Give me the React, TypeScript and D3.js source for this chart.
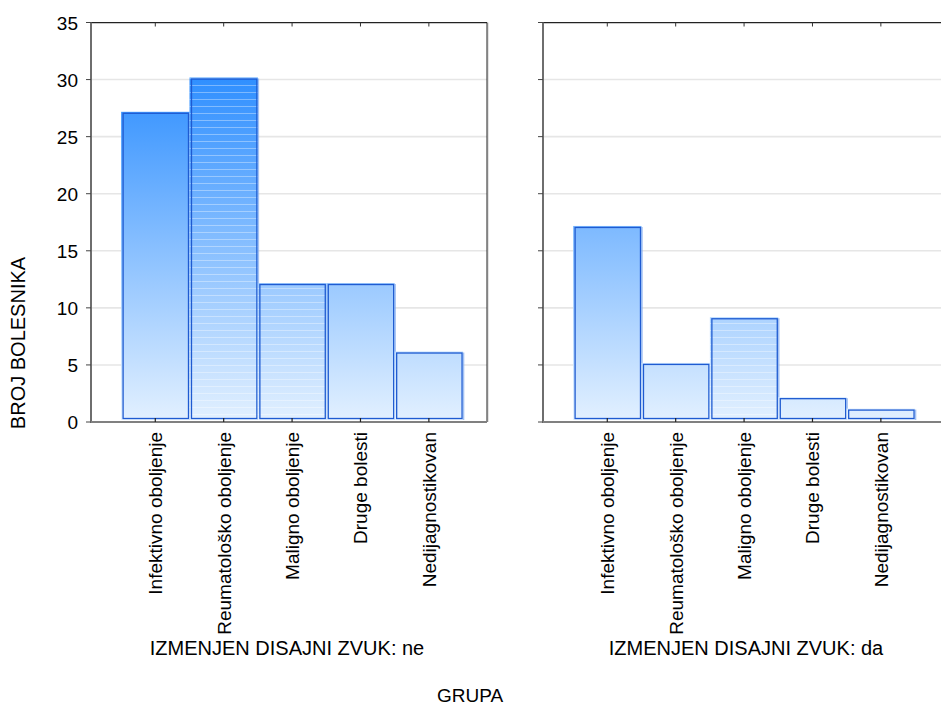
import React from "react";
import * as d3 from "d3";

const categories = [
  "Infektivno oboljenje",
  "Reumatološko oboljenje",
  "Maligno oboljenje",
  "Druge bolesti",
  "Nedijagnostikovan",
];
const valuesNe = [27, 30, 12, 12, 6];
const valuesDa = [17, 5, 9, 2, 1];
const panelTitles = ["IZMENJEN DISAJNI ZVUK: ne", "IZMENJEN DISAJNI ZVUK: da"];
const yTicks = [0, 5, 10, 15, 20, 25, 30, 35];
const texturedNe = [1, 2];
const texturedDa = [2];

const W = 941;
const H = 722;
const FONT = "'Liberation Sans', Arial, sans-serif";

const y = d3.scaleLinear().domain([0, 35]).range([422, 22.5]);
const colorScale = d3.scaleLinear<string>().domain([0, 30]).range(["#e2f0ff", "#2f8fff"]);

function Panel({ x0, x1, frameRight, values, textured, title, showLabels }: any) {
  const x = d3.scaleLinear().domain([-0.94, 4.85]).range([x0, x1]);
  const yTop = y(35);
  const yBot = y(0);
  return (
    <g>
      {yTicks.filter((t) => t > 0 && t < 35).map((t) => (
        <line key={"g" + t} x1={x0} x2={frameRight} y1={y(t)} y2={y(t)} stroke="#e6e6e6" strokeWidth={1.6} />
      ))}
      <g transform="translate(0,-2)">
        {values.map((v: number, i: number) => {
          const bx = x(i - 0.5);
          const bw = x(i + 0.5) - x(i - 0.5);
          const by = y(v);
          const bh = yBot - y(v);
          return (
            <g key={"b" + i}>
              <rect x={bx} y={by} width={bw} height={bh} fill="url(#grad)" />
              {textured.includes(i) && (
                <rect x={bx} y={by} width={bw} height={bh} fill="url(#stripes)" />
              )}
              <rect x={bx + 2} y={by + 1.5} width={bw - 3} height={bh - 3} fill="none" stroke="#1f5bd1" strokeWidth={1.3} />
              <line x1={bx + bw + 0.5} x2={bx + bw + 0.5} y1={by + 1} y2={by + bh} stroke="#7fa9ef" strokeWidth={1.5} opacity={0.7} />
            </g>
          );
        })}
      </g>
      <line x1={x0} x2={frameRight} y1={yTop + 1} y2={yTop + 1} stroke="#c8c8c8" strokeWidth={1} />
      <line x1={frameRight + 1} x2={frameRight + 1} y1={yTop} y2={yBot} stroke="#c8c8c8" strokeWidth={1} />
      <line x1={x0} x2={frameRight} y1={yTop} y2={yTop} stroke="#222" strokeWidth={1} />
      <line x1={frameRight} x2={frameRight} y1={yTop} y2={yBot} stroke="#222" strokeWidth={1} />
      <line x1={x0} x2={x0} y1={yTop} y2={yBot + 1} stroke="#6e6e6e" strokeWidth={2} />
      <line x1={x0 - 1} x2={frameRight} y1={yBot} y2={yBot} stroke="#808080" strokeWidth={2} />
      {yTicks.map((t) => (
        <line key={"yt" + t} x1={x0 - 5} x2={x0} y1={y(t)} y2={y(t)} stroke="#444" strokeWidth={1} />
      ))}
      {categories.map((c, i) => (
        <g key={"xt" + i}>
          <line x1={x(i)} x2={x(i)} y1={yTop} y2={yTop + 4} stroke="#333" strokeWidth={1} />
          <line x1={x(i)} x2={x(i)} y1={yBot - 4} y2={yBot} stroke="#222" strokeWidth={1.2} />
          <text
            transform={`translate(${x(i) + 7},432) rotate(-90)`}
            textAnchor="end"
            fontFamily={FONT}
            fontSize={19}
            fill="#000"
          >
            {c}
          </text>
        </g>
      ))}
      {showLabels &&
        yTicks.map((t) => (
          <text key={"yl" + t} x={x0 - 13} y={y(t) + 7} textAnchor="end" fontFamily={FONT} fontSize={19} fill="#000">
            {t}
          </text>
        ))}
      <text x={title.cx} y={655} textAnchor="middle" fontFamily={FONT} fontSize={20} fill="#000">
        {title.text}
      </text>
    </g>
  );
}

export default function App() {
  return (
    <svg
      width={W}
      height={H}
      style={{ position: "absolute", left: 0, top: 0, background: "#fff" }}
      xmlns="http://www.w3.org/2000/svg"
    >
      <defs>
        <linearGradient id="grad" gradientUnits="userSpaceOnUse" x1={0} x2={0} y1={y(30)} y2={y(0)}>
          <stop offset="0%" stopColor={colorScale(30)} />
          <stop offset="100%" stopColor={colorScale(0)} />
        </linearGradient>
        <pattern id="stripes" patternUnits="userSpaceOnUse" width={10} height={7}>
          <rect x={0} y={3} width={10} height={1} fill="#ffffff" opacity={0.35} />
        </pattern>
      </defs>
      <rect x={0} y={0} width={W} height={H} fill="#fff" />
      <Panel x0={91} x1={487} frameRight={487} values={valuesNe} textured={texturedNe} title={{ text: panelTitles[0], cx: 287 }} showLabels={true} />
      <Panel x0={543} x1={939} frameRight={944} values={valuesDa} textured={texturedDa} title={{ text: panelTitles[1], cx: 746 }} showLabels={false} />
      <text
        transform={`translate(25,343) rotate(-90)`}
        textAnchor="middle"
        fontFamily={FONT}
        fontSize={20}
        fill="#000"
      >
        BROJ BOLESNIKA
      </text>
      <text x={470} y={702} textAnchor="middle" fontFamily={FONT} fontSize={19} fill="#000">
        GRUPA
      </text>
    </svg>
  );
}
